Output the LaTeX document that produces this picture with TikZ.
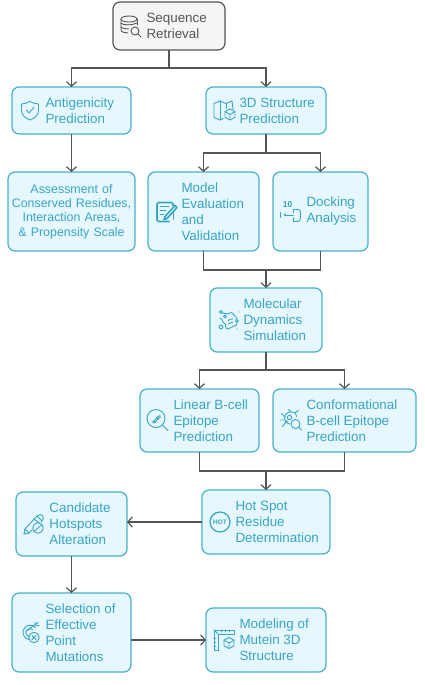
\documentclass[tikz,border=0pt]{standalone}
\usepackage{xcolor}
\usepackage{fontspec}
\setmainfont{Liberation Sans}
\usetikzlibrary{arrows.meta,positioning,calc}
\definecolor{boxfill}{HTML}{E6F8FE}
\definecolor{boxline}{HTML}{48AFCC}
\definecolor{boxtext}{HTML}{38A5C4}
\definecolor{startfill}{HTML}{F5F5F5}
\definecolor{ink}{HTML}{555555}
\tikzset{
  notestage/.style={
    rectangle,
    rounded corners=7pt,
    draw=boxline,
    line width=1.2pt,
    fill=boxfill,
    text=boxtext,
    inner sep=0pt,
    outer sep=0pt,
    align=center,
    font=\fontsize{12.4}{14.4}\selectfont,
    text width=#1,
    minimum height=64pt
  },
  stage/.style={
    notestage=#1,
    align=none,
    font=\fontsize{13.4}{16}\selectfont,
    execute at begin node={\parindent=0pt\leftskip=33.5pt\rightskip=0pt plus 1fil\relax}
  },
  startstage/.style={stage=#1, fill=startfill, draw=ink, text=ink},
  flow/.style={
    -{Straight Barb[length=4.5pt,width=10pt]},
    draw=ink,
    line width=1.2pt
  },
  link/.style={draw=ink, line width=1.2pt},
  iconline/.style={draw=boxtext, line width=0.9pt, line join=round, line cap=round},
  dbicon/.pic={
    \begin{scope}[iconline, draw=ink]
      \draw (0,7) ellipse (8 and 3);
      \draw (-8,7) -- (-8,-4) .. controls (-8,-6) and (-4,-7) .. (-1,-7);
      \draw (8,7) -- (8,1);
      \draw (-8,3) .. controls (-7,1) and (2,0) .. (8,3);
      \draw (-8,-1) .. controls (-7,-2.5) and (-3,-3) .. (0,-3);
      \draw (6,-5) circle (4);
      \draw (9,-8) -- (12,-11);
    \end{scope}
  },
  shieldicon/.pic={
    \begin{scope}[iconline]
      \draw (0,9) .. controls (-3,7.5) and (-6,6.5) .. (-8.5,6.5) -- (-8.5,0)
        .. controls (-8.5,-5) and (-4,-8) .. (0,-9.5)
        .. controls (4,-8) and (8.5,-5) .. (8.5,0) -- (8.5,6.5)
        .. controls (6,6.5) and (3,7.5) .. (0,9) -- cycle;
      \draw (-3.5,0.5) -- (-1,-2.5) -- (4,3);
    \end{scope}
  },
  cubeicon/.pic={
    \begin{scope}[iconline]
      \draw (0,5.5) -- (5,2.8) -- (5,-2.8) -- (0,-5.5) -- (-5,-2.8) -- (-5,2.8) -- cycle;
      \draw (-5,2.8) -- (0,0) -- (5,2.8) (0,0) -- (0,-5.5);
    \end{scope}
  },
  mapicon/.pic={
    \begin{scope}[iconline]
      \draw (-1,-8) -- (-4,-9.5) -- (-10,-7) -- (-10,7) -- (-4,9.5) -- (2,7) -- (8,9.5) -- (9,1);
      \draw (-4,9.5) -- (-4,-9.5) (2,7) -- (2,2);
    \end{scope}
    \pic at (6,-4) {cubeicon};
  },
  formicon/.pic={
    \begin{scope}[iconline]
      \draw[line width=1.6pt, rounded corners=1.5pt] (3,-10) -- (-9,-10) -- (-9,9) -- (7,9) -- (7,6);
      \draw (-6,5) -- (3,5) (-6,1) -- (0,1) (-6,-3) -- (-2,-3);
      \draw[line width=1.6pt] (9,6) -- (-1,-5) -- (-2,-8) -- (1,-7) -- (11,4) -- cycle;
      \draw (7,-1) -- (7,-8);
    \end{scope}
  },
  dockicon/.pic={
    \node[text=boxtext, inner sep=0pt, font=\bfseries\fontsize{8.5}{9}\selectfont] (tenmark) at (-3,6.5) {10};
    \begin{scope}[iconline]
      \draw (-10,-1) -- (-10,-6);
      \draw[-{Stealth[length=2.5pt,width=3pt]}] (3,-3.5) -- (-7,-3.5);
      \draw (3,2) -- (7,2) .. controls (9.5,2) and (10,1) .. (10,-1) -- (10,-6)
        .. controls (10,-9) and (9,-10) .. (7,-10) -- (3,-10);
      \draw (3,2) -- (3,-1) (3,-6) -- (3,-10);
    \end{scope}
  },
  moleculeicon/.pic={
    \begin{scope}[iconline]
      \draw (-8,8) circle (1.6) (-8,-7) circle (2) (8,-1) circle (1.6) (-4,3.5) circle (1.5);
      \draw (-6.5,7) .. controls (-4,8) and (-4,5) .. (-1,6) .. controls (2,8) and (3,8) .. (5,5)
        .. controls (6,3) and (8,3) .. (8,1);
      \draw (-9,2) .. controls (-5,0) and (-8,-2) .. (-5,-3) .. controls (-2,-4) and (-5,-9) .. (-1,-9)
        .. controls (2,-9) and (2,-6) .. (5,-6) .. controls (7,-6) and (8,-5) .. (8,-3);
      \draw (-1,-1) .. controls (1,2) and (2,0) .. (4,1) (-1,-4) .. controls (1,-2) and (2,-4) .. (4,-2);
      \fill[boxtext] (10,8) circle (0.7) (8,-9) circle (0.7);
    \end{scope}
  },
  dnaicon/.pic={
    \begin{scope}[iconline]
      \draw (-2,2) circle (9);
      \draw (4.5,-4.5) -- (10,-10);
      \draw (-6,-1) .. controls (-3,-2) and (-2,4) .. (2,5);
      \draw (-5,-2.5) .. controls (-1,-2) and (-1,3) .. (3,3.5);
      \draw (-3.5,-0.5) -- (-3,-2.5) (-1,2) -- (0.5,1) (0,4) -- (1.5,3);
    \end{scope}
  },
  bugicon/.pic={
    \begin{scope}[iconline]
      \draw (4,8) .. controls (0,10) and (-6,8) .. (-6,2) .. controls (-6,-1) and (-4,-3) .. (-1,-3.5);
      \draw (6,4) .. controls (6,5.5) and (5,7) .. (4,8);
      \draw (-1,3) circle (2.2);
      \fill[boxtext] (-3.5,-0.5) circle (1);
      \draw (-6,4) -- (-9,7) (-7,0.5) -- (-10,0.5) (-5,-2) -- (-8,-6) (0,9) -- (-2,11) (5,8) -- (8,10);
      \draw (5,-3.5) circle (4.5);
      \draw (8.3,-6.8) -- (11,-9.5);
    \end{scope}
  },
  hoticon/.pic={
    \draw[iconline, line width=1.2pt] (0,0) circle (10);
    \node[text=boxtext, inner sep=0pt, font=\bfseries\fontsize{6.5}{7}\selectfont] (hotmark) at (0,0) {HOT};
  },
  pencilicon/.pic={
    \begin{scope}[iconline]
      \draw (-10,-10) -- (-9,-5) -- (3,8) .. controls (5,10) and (8,10) .. (9,8)
        .. controls (10,6) and (9,4) .. (7,2);
      \draw (-10,-10) -- (-5,-9) -- (-2,-6);
      \draw (-9,-5) -- (-5,-9) (0,5) -- (5,1) (3,8) -- (8,3);
      \draw (4,-4) circle (5.3);
      \draw (0.5,-7) -- (7.5,-1);
    \end{scope}
  },
  targeticon/.pic={
    \begin{scope}[iconline]
      \draw (-1,-7) arc[start angle=-100, end angle=-320, radius=7.2];
      \draw (-1,-4) arc[start angle=-100, end angle=-320, radius=4];
      \draw (-3,2) -- (8,10);
      \draw (5,10) -- (6,7) -- (9,7);
      \draw (4,-5) circle (5.2);
      \draw (2,-7) -- (6,-3) (2,-3) -- (6,-7);
    \end{scope}
  },
  rulericon/.pic={
    \begin{scope}[iconline]
      \draw (-10,-10) -- (-10,10) -- (10,10) -- (10,6) -- (-6,6) -- (-6,-10) -- cycle;
      \draw (-6,6) -- (-10,10);
      \draw (-3,10) -- (-3,8) (1,10) -- (1,8) (5,10) -- (5,8);
      \draw (-10,2) -- (-8,2) (-10,-2) -- (-8,-2) (-10,-6) -- (-8,-6);
    \end{scope}
    \pic at (5,-3) {cubeicon};
  }
}

\begin{document}
\begin{tikzpicture}[x=1pt, y=1pt, node distance=37pt and 14pt]
\useasboundingbox (0,0) rectangle (424,-685);

% ---- Top of the tree ----
\node[startstage=112pt, minimum height=48pt] (seq) at (169,-26) {Sequence\\Retrieval};
\node[stage=119pt, minimum height=47pt, below=of seq, xshift=-97.5pt] (antigen) {Antigenicity\\Prediction};
\node[stage=120pt, minimum height=47pt, below=of seq, xshift=97pt] (struct) {3D Structure\\Prediction};

% ---- Second level ----
\node[notestage=127pt, minimum height=79pt, below=38pt of antigen] (assess) {Assessment of\\Conserved Residues,\\Interaction Areas,\\\& Propensity Scale};
\node[stage=111pt, minimum height=79pt, below=38pt of struct, xshift=-62.5pt] (model) {Model\\Evaluation\\and\\Validation};
\node[stage=95pt, minimum height=79pt, right=of model] (dock) {Docking\\Analysis};

% ---- Simulation and epitopes ----
\node[stage=112pt, below=of model, xshift=62.5pt] (md) {Molecular\\Dynamics\\Simulation};
\node[stage=119pt, minimum height=63pt, below=of md, xshift=-66.5pt] (linear) {Linear B-cell\\Epitope\\Prediction};
\node[stage=143pt, minimum height=63pt, right=of linear] (conf) {Conformational\\B-cell Epitope\\Prediction};

% ---- Hot spots and mutations ----
\node[stage=128pt, below=38pt of linear, xshift=66.5pt] (hot) {Hot Spot\\Residue\\Determination};
\node[stage=111pt, left=75pt of hot, yshift=-2pt] (cand) {Candidate\\Hotspots\\Alteration};
\node[stage=119pt, minimum height=79pt, below=of cand] (select) {Selection of\\Effective\\Point\\Mutations};
\node[stage=120pt, right=75pt of select, yshift=-7.5pt] (mutein) {Modeling of\\Mutein 3D\\Structure};

% ---- Icons ----
\pic at ($(seq.west)+(16,0)$) {dbicon};
\pic at ($(antigen.west)+(18,0)$) {shieldicon};
\pic at ($(struct.west)+(18,0)$) {mapicon};
\pic at ($(model.west)+(18,0)$) {formicon};
\pic at ($(dock.west)+(17.5,0)$) {dockicon};
\pic at ($(md.west)+(19,0)$) {moleculeicon};
\pic at ($(linear.west)+(18,0)$) {dnaicon};
\pic at ($(conf.west)+(17.5,0)$) {bugicon};
\pic at ($(hot.west)+(18,0)$) {hoticon};
\pic at ($(cand.west)+(18,0)$) {pencilicon};
\pic at ($(select.west)+(18,0)$) {targeticon};
\pic at ($(mutein.west)+(18,0)$) {rulericon};

% ---- Flow ----
\draw[flow] (seq.south) -- ++(0,-18) -| (antigen.north);
\draw[flow] (seq.south) -- ++(0,-18) -| (struct.north);
\draw[flow] (antigen) -- (assess);
\draw[flow] (struct.south) -- ++(0,-19) -| (model.north);
\draw[flow] (struct.south) -- ++(0,-19) -| (dock.north);

% Two boxes merge into one stem above the next stage.
\coordinate[above=18pt of md] (mdjoin);
\draw[link] (model.south) |- (mdjoin);
\draw[link] (dock.south) |- (mdjoin);
\draw[flow] (mdjoin) -- (md);

\draw[flow] (md.south) -- ++(0,-18) -| (linear.north);
\draw[flow] (md.south) -- ++(0,-18) -| (conf.north);

\coordinate[above=19pt of hot] (hotjoin);
\draw[link] (linear.south) |- (hotjoin);
\draw[link] (conf.south) |- (hotjoin);
\draw[flow] (hotjoin) -- (hot);

\draw[flow] (hot.west) -- (hot.west -| cand.east);
\draw[flow] (cand) -- (select);
\draw[flow] (select.east |- mutein.west) -- (mutein.west);

\end{tikzpicture}
\end{document}
